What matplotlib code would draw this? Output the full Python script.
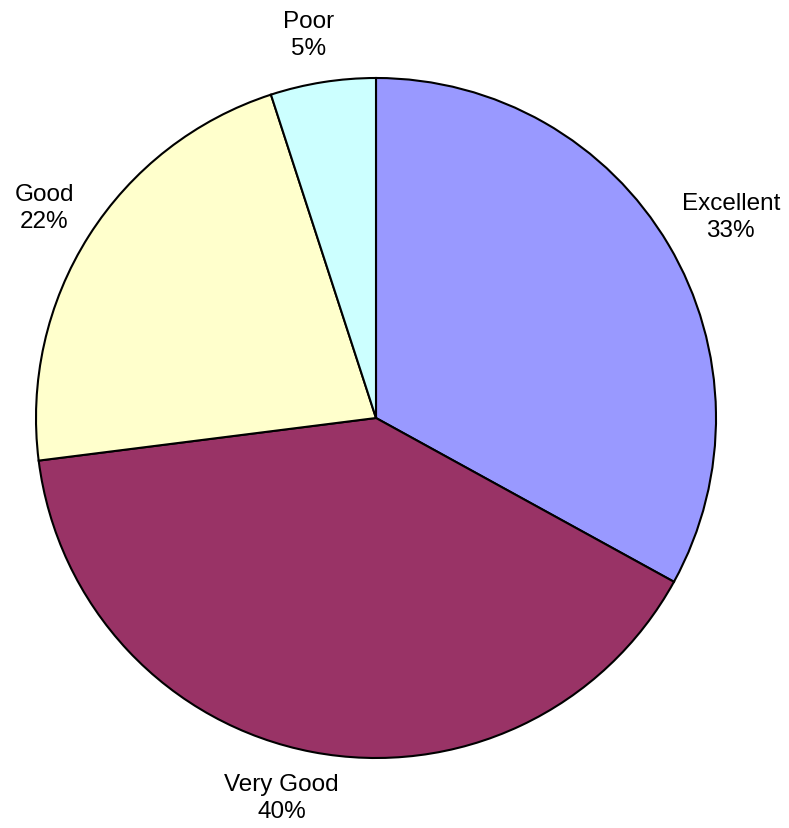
import numpy as np
import matplotlib
matplotlib.use("Agg")
from matplotlib import pyplot as plt

plt.rcParams['font.family'] = ['Liberation Sans', 'DejaVu Sans']

# ratings and their share of answers
categories = ['Excellent', 'Very Good', 'Good', 'Poor']
shares = [33, 40, 22, 5]
colors = ['#9999FF', '#993366', '#FFFFCC', '#CCFFFF']
# label placement: distance from centre (radii) and angle nudge (deg)
label_dist = [1.2, 1.15, 1.155, 1.145]
label_nudge = [-1.0, -3.2, 0.0, 1.0]

fig = plt.figure(figsize=(7.89, 8.29), dpi=100)
# pie centred at about (376, 419) px with radius 340 px
ax = fig.add_axes([36 / 789, (829 - 759) / 829, 680 / 789, 680 / 829])

wedges, texts = ax.pie(shares, colors=colors, startangle=90, counterclock=False,
                       labels=[f'{c}\n{s}%' for c, s in zip(categories, shares)],
                       labeldistance=1.15,
                       wedgeprops=dict(edgecolor='black', linewidth=1.5),
                       textprops=dict(fontsize=17.5, color='black'))

# put labels centred near the slice mid-angle
for w, t, d, n in zip(wedges, texts, label_dist, label_nudge):
    ang = np.deg2rad((w.theta1 + w.theta2) / 2 + n)
    t.set_position((d * np.cos(ang), d * np.sin(ang)))
    t.set_ha('center')
    t.set_va('center')
    t.set_linespacing(1.3)

ax.set_xlim(-1, 1)
ax.set_ylim(-1, 1)
ax.set_aspect('equal')
ax.axis('off')

fig.savefig('out.png', dpi=100)
